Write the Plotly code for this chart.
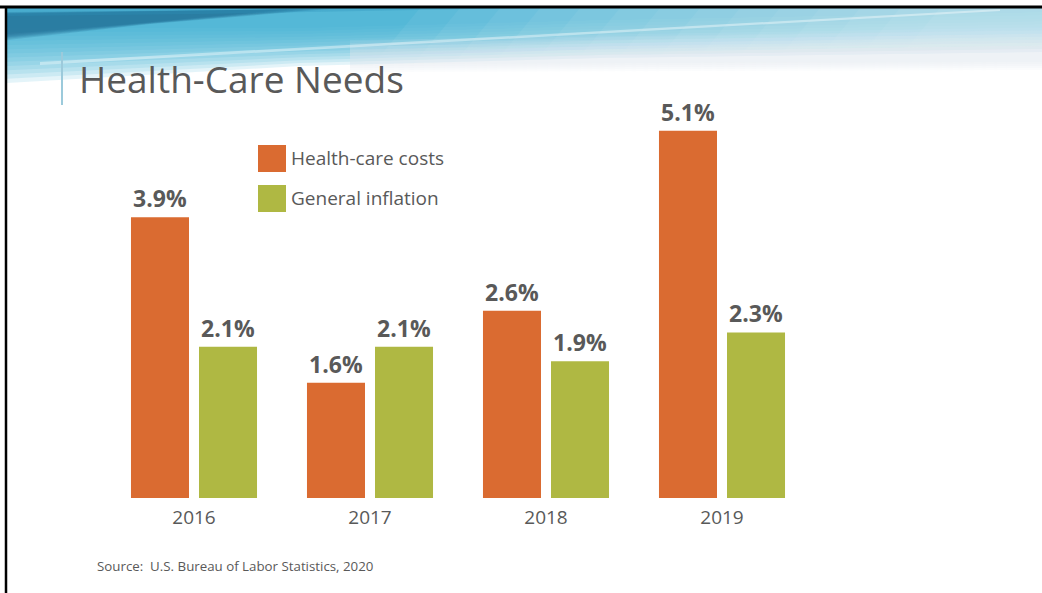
import plotly.graph_objects as go

years = ["2016", "2017", "2018", "2019"]
health_costs = [3.9, 1.6, 2.6, 5.1]
general_inflation = [2.1, 2.1, 1.9, 2.3]
series_names = ["Health-care costs", "General inflation"]
colors = ["#DA6B31", "#AFB843"]

W, H = 1042, 593
L, R, T, B = 106, 232, 102, 95
PW, PH = W - L - R, H - T - B


def px(x):
    return (x - L) / PW


def py(y):
    return (H - B - y) / PH


def path(points):
    return "M " + " L ".join(f"{px(x):.5f},{py(y):.5f}" for x, y in points) + " Z"


fig = go.Figure()
for name, vals, col in zip(series_names, [health_costs, general_inflation], colors):
    fig.add_trace(go.Bar(
        x=years, y=vals, name=name, marker_color=col, marker_line_width=0,
        text=[f"{v:.1f}%" for v in vals], textposition="outside",
        textfont=dict(family="Open Sans", size=23, color="#595959", weight="bold"),
        cliponaxis=False, showlegend=False,
    ))

shapes = []


def band(pts, col, op):
    shapes.append(dict(type="path", xref="paper", yref="paper", path=path(pts),
                       fillcolor=col, opacity=op, line_width=0, layer="below"))


# header decoration: stacked translucent layers to mimic a soft gradient
N = 14
for k in range(N):
    f = k / (N - 1)
    yl = 28 + 55 * f
    ym = 20 + 38 * f
    yr = 12 + 40 * f
    band([(7, 8), (1042, 8), (1042, yr), (600, ym), (300, ym + 8), (7, yl)], "#3fb4d2", 0.14)
# lighten toward the right with many faint layers
for k in range(14):
    x0 = 420 + 40 * k
    band([(x0, 8), (1042, 8), (1042, 80), (x0 - 60, 80)], "#ffffff", 0.055)
# faint bluish tint below the band on the right
for k in range(5):
    band([(350, 40 + 3 * k), (1042, 30 + 4 * k), (1042, 70 - 2 * k), (350, 72 - 2 * k)], "#dfeaf2", 0.12)
# darker streak on the left
for k in range(6):
    f = k / 5
    band([(7, 12 + 2 * f), (330 - 40 * f, 9), (150 - 20 * f, 24), (7, 40 - 6 * f)], "#1d6a92", 0.2)
# teal top strip left
band([(7, 8), (520, 8), (200, 14), (7, 16)], "#2f93b8", 0.3)
# thin light streak
band([(40, 62), (1000, 9), (1000, 11), (40, 65)], "#ffffff", 0.4)

# border lines
shapes.append(dict(type="line", xref="paper", yref="paper", x0=px(0), x1=px(W), y0=py(7), y1=py(7),
                   line=dict(color="#000000", width=3)))
shapes.append(dict(type="line", xref="paper", yref="paper", x0=px(6), x1=px(6), y0=py(6), y1=py(H),
                   line=dict(color="#000000", width=2.5)))
# title accent line
shapes.append(dict(type="line", xref="paper", yref="paper", x0=px(62), x1=px(62), y0=py(52), y1=py(105),
                   line=dict(color="#9ccadb", width=2)))
# legend squares
for i, col in enumerate(colors):
    y0 = 145 + i * 40
    shapes.append(dict(type="rect", xref="paper", yref="paper", x0=px(258), x1=px(286),
                       y0=py(y0), y1=py(y0 + 27), fillcolor=col, line_width=0))

annotations = [
    dict(text="Health-Care Needs", x=px(77), y=py(79), xref="paper", yref="paper",
         xanchor="left", yanchor="middle", showarrow=False,
         font=dict(family="Open Sans", size=37, color="#595959")),
    dict(text="Source:  U.S. Bureau of Labor Statistics, 2020", x=px(95), y=py(566),
         xref="paper", yref="paper", xanchor="left", yanchor="middle", showarrow=False,
         font=dict(family="Open Sans", size=13.3, color="#595959")),
]
for i, name in enumerate(series_names):
    annotations.append(dict(text=name, x=px(289), y=py(158 + i * 40), xref="paper", yref="paper",
                            xanchor="left", yanchor="middle", showarrow=False,
                            font=dict(family="Open Sans", size=19, color="#595959")))

fig.update_layout(
    width=W, height=H, margin=dict(l=L, r=R, t=T, b=B),
    paper_bgcolor="white", plot_bgcolor="white",
    barmode="group", bargap=0.227, bargroupgap=0.147,
    shapes=shapes, annotations=annotations,
    xaxis=dict(showline=False, showgrid=False, ticks="", ticklabelstandoff=6,
               tickfont=dict(family="Open Sans", size=19, color="#595959")),
    yaxis=dict(range=[0, 5.5], visible=False, showgrid=False, zeroline=False),
    font=dict(family="Open Sans"),
)

fig.write_html("out.html", config={"displayModeBar": False})
